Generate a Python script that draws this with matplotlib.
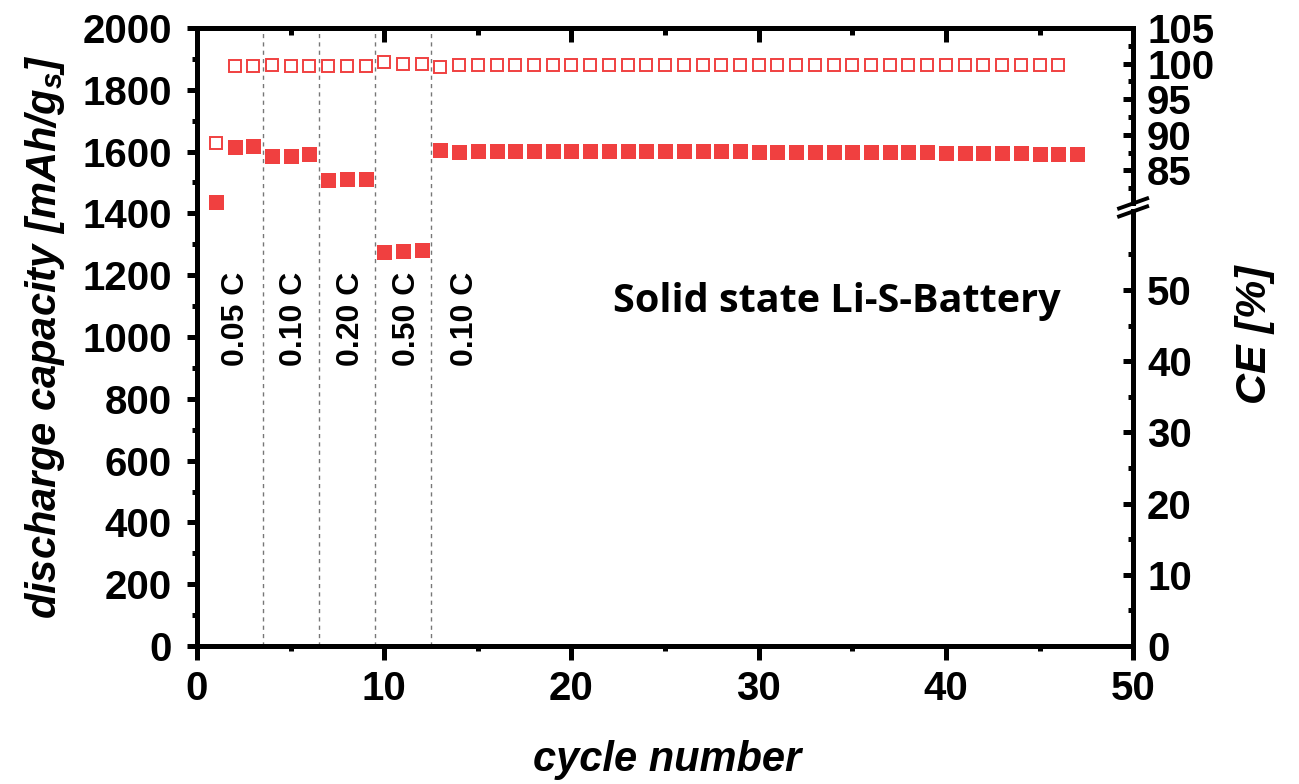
import matplotlib
matplotlib.use("Agg")
import matplotlib.pyplot as plt
from matplotlib.ticker import MultipleLocator, FixedLocator, NullFormatter

plt.rcParams['font.family'] = ['Liberation Sans', 'DejaVu Sans']
plt.rcParams['font.weight'] = 'bold'
plt.rcParams['mathtext.fontset'] = 'custom'
plt.rcParams['mathtext.it'] = 'Liberation Sans:italic:bold'
plt.rcParams['mathtext.rm'] = 'Liberation Sans:bold'

# discharge capacity, cycles 1..47
cap_cycles = list(range(1, 48))
capacity = [1437, 1615, 1617, 1585, 1585, 1591, 1507, 1510, 1510, 1274, 1277, 1281,
            1604, 1598, 1601,
            1601, 1601, 1601, 1601, 1601, 1601, 1601, 1601, 1601, 1601, 1601, 1601, 1601, 1601,
            1598, 1598, 1598, 1598, 1598, 1598, 1598, 1598, 1598, 1598,
            1596, 1596, 1596, 1596, 1596,
            1592, 1592, 1592]

# coulombic efficiency, cycles 1..46
ce_cycles = list(range(1, 47))
ce = [88.8, 99.6, 99.6, 99.85, 99.7, 99.7, 99.6, 99.65, 99.65, 100.2, 99.9, 99.9,
      99.5, 99.75, 99.8, 99.8, 99.8, 99.8, 99.8, 99.8, 99.8, 99.8, 99.8, 99.85, 99.85,
      99.85, 99.8, 99.8, 99.8, 99.8, 99.8, 99.8, 99.8, 99.8, 99.8, 99.8, 99.8, 99.8,
      99.8, 99.8, 99.8, 99.8, 99.8, 99.8, 99.8, 99.8]

rate_change = [3.5, 6.5, 9.5, 12.5]
rate_labels = ['0.05 C', '0.10 C', '0.20 C', '0.50 C', '0.10 C']
rate_label_x = [2.1, 5.2, 8.2, 11.2, 14.3]
rate_label_y = 1060

red = '#F04040'

# right axis has a break: 0..61 drawn as is, 80..105 shifted down
BREAK_T = 61.6
SHIFT = 18.2
CE_TOP = 105 - SHIFT


def ce_to_axis(v):
    return v if v < BREAK_T else v - SHIFT


fig = plt.figure(figsize=(12.99, 7.84), dpi=100)
ax = fig.add_axes([0.1517, 0.1760, 0.7206, 0.7883])

ax.plot(cap_cycles, capacity, 's', color=red, ms=10.8, mew=0, zorder=3)
for xc in rate_change:
    ax.axvline(xc, color='#777777', lw=1.0, ls=(0, (3, 3)), zorder=1)
for lab, xl in zip(rate_labels, rate_label_x):
    ax.text(xl, rate_label_y, lab, rotation=90, ha='center', va='center',
            fontsize=23, fontweight='bold')

ax.text(0.683, 0.557, 'Solid state Li-S-Battery', transform=ax.transAxes,
        ha='center', va='center', fontsize=28.5, fontweight='bold',
        family=['Open Sans', 'DejaVu Sans'])

ax.set_xlim(0, 50)
ax.set_ylim(0, 2000)
ax.xaxis.set_major_locator(MultipleLocator(10))
ax.xaxis.set_minor_locator(MultipleLocator(5))
ax.yaxis.set_major_locator(MultipleLocator(200))
ax.yaxis.set_minor_locator(MultipleLocator(100))
for s in ['left', 'bottom', 'top']:
    ax.spines[s].set_linewidth(3.6)
ax.spines['right'].set_visible(False)
ax.tick_params(axis='y', which='major', direction='out', length=7.2, width=3.6,
               labelsize=29, pad=11)
ax.tick_params(axis='y', which='minor', direction='out', length=3.6, width=3.6)
ax.tick_params(axis='x', which='major', direction='out', length=10, width=3.6,
               labelsize=29, pad=7)
ax.tick_params(axis='x', which='minor', direction='out', length=3.6, width=3.6)

top = ax.secondary_xaxis('top')
top.xaxis.set_major_locator(MultipleLocator(10))
top.xaxis.set_minor_locator(MultipleLocator(5))
top.xaxis.set_major_formatter(NullFormatter())
top.spines['top'].set_linewidth(3.6)
top.tick_params(which='major', direction='in', length=10, width=3.6)
top.tick_params(which='minor', direction='in', length=5, width=3.6)

ax2 = ax.twinx()
ax2.plot(ce_cycles, [ce_to_axis(v) for v in ce], 's', mfc='none', mec=red,
         ms=8.2, mew=1.4, zorder=4)
ax2.set_ylim(0, CE_TOP)
for s in ax2.spines.values():
    s.set_visible(False)

major_vals = [0, 10, 20, 30, 40, 50, 85, 90, 95, 100, 105]
minor_vals = [5, 15, 25, 35, 45, 55, 82.5, 87.5, 92.5, 97.5, 102.5]
ax2.yaxis.set_major_locator(FixedLocator([ce_to_axis(v) for v in major_vals]))
ax2.set_yticklabels([str(v) for v in major_vals])
ax2.yaxis.set_minor_locator(FixedLocator([ce_to_axis(v) for v in minor_vals]))
ax2.tick_params(axis='y', which='major', direction='in', length=7.2, width=3.6,
                labelsize=29, pad=10)
ax2.tick_params(axis='y', which='minor', direction='in', length=3.6, width=3.6)

# right spine with break marks
fb = BREAK_T / CE_TOP
gap = 4.0 / 618
dx, dy = 14.0 / 935, 5.0 / 618
ax2.plot([1, 1], [0, fb - gap], color='k', lw=3.6, transform=ax2.transAxes,
         clip_on=False, solid_capstyle='projecting')
ax2.plot([1, 1], [fb + gap, 1], color='k', lw=3.6, transform=ax2.transAxes,
         clip_on=False, solid_capstyle='projecting')
for off in (-gap, gap):
    ax2.plot([1 - dx, 1 + dx], [fb + off - dy, fb + off + dy], color='k', lw=2.8,
             transform=ax2.transAxes, clip_on=False)

fig.text(45 / 1299, 1 - 337 / 784, 'discharge capacity [mAh/g$_s$]', rotation=90,
         ha='center', va='center', fontsize=30, fontweight='bold', style='italic')
fig.text(667 / 1299, 1 - 760 / 784, 'cycle number', ha='center', va='center',
         fontsize=30, fontweight='bold', style='italic')
fig.text(1255 / 1299, 1 - 335 / 784, 'CE [%]', rotation=90, ha='center', va='center',
         fontsize=31, fontweight='bold', style='italic')

fig.savefig('out.png', dpi=100)
